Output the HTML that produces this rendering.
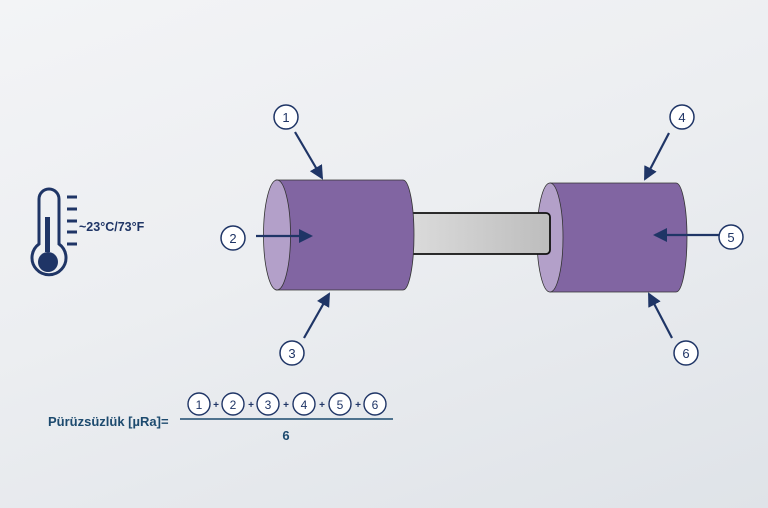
<!DOCTYPE html>
<html><head><meta charset="utf-8"><style>
html,body{margin:0;padding:0}
body{width:768px;height:508px;overflow:hidden;background:linear-gradient(160deg,#f3f4f6 0%,#eceef1 45%,#dfe3e8 100%);font-family:"Liberation Sans",sans-serif}
</style></head><body>
<svg width="768" height="508" viewBox="0 0 768 508" xmlns="http://www.w3.org/2000/svg" style="display:block">
<defs>
<linearGradient id="rod" x1="0" y1="0" x2="1" y2="0">
<stop offset="0" stop-color="#dcdcdc"/><stop offset="1" stop-color="#bdbdbd"/></linearGradient>
<marker id="ah2" markerWidth="14" markerHeight="14" refX="12" refY="7" orient="auto" markerUnits="userSpaceOnUse" viewBox="0 0 14 14">
<path d="M0,0 L14,7 L0,14 z" fill="#1f3566"/></marker>
</defs>
<!-- thermometer -->
<g fill="none" stroke="#1f3566" stroke-width="3">
<path d="M39,244 V199 a10,10 0 0 1 20,0 V244 a17,17 0 1 1 -20,0 z"/>
</g>
<rect x="45" y="217" width="5" height="35" fill="#1f3566"/>
<circle cx="48" cy="262" r="10" fill="#1f3566"/>
<g stroke="#1f3566" stroke-width="3">
<line x1="67" y1="197" x2="77" y2="197"/><line x1="67" y1="209" x2="77" y2="209"/>
<line x1="67" y1="221" x2="77" y2="221"/><line x1="67" y1="232" x2="77" y2="232"/>
<line x1="67" y1="244" x2="77" y2="244"/>
</g>
<text x="79" y="231" font-size="12.5" font-weight="bold" fill="#1f3566">~23°C/73°F</text>
<!-- right cylinder -->
<path d="M550,183 H676 A11,54.5 0 0 1 676,292 H550 z" fill="#8165a2" stroke="#333" stroke-width="0.8"/>
<ellipse cx="550" cy="237.5" rx="13" ry="54.5" fill="#b3a0c9" stroke="#333" stroke-width="0.8"/>
<!-- rod -->
<rect x="405" y="213" width="145" height="41" rx="4" fill="url(#rod)" stroke="#111" stroke-width="1.8"/>
<!-- left cylinder -->
<path d="M276,180 H403 A11,55 0 0 1 403,290 H276 z" fill="#8165a2" stroke="#333" stroke-width="0.8"/>
<ellipse cx="277" cy="235" rx="13.5" ry="55" fill="#b3a0c9" stroke="#333" stroke-width="0.8"/>
<!-- arrows -->
<g stroke="#1f3566" stroke-width="2.2" marker-end="url(#ah2)">
<line x1="295" y1="132" x2="322" y2="178"/>
<line x1="256" y1="236" x2="311" y2="236"/>
<line x1="304" y1="338" x2="329" y2="294"/>
<line x1="669" y1="133" x2="645" y2="179"/>
<line x1="720" y1="235" x2="655" y2="235"/>
<line x1="672" y1="338" x2="649" y2="294"/>
</g>
<!-- circles -->
<g fill="#fff" stroke="#1f3566" stroke-width="1.5">
<circle cx="286" cy="117" r="12"/><circle cx="233" cy="238" r="12"/><circle cx="292" cy="353" r="12"/>
<circle cx="682" cy="117" r="12"/><circle cx="731" cy="237" r="12"/><circle cx="686" cy="353" r="12"/>
</g>
<g font-size="13" fill="#1f3566" text-anchor="middle">
<text x="286" y="122">1</text><text x="233" y="243">2</text><text x="292" y="358">3</text>
<text x="682" y="122">4</text><text x="731" y="242">5</text><text x="686" y="358">6</text>
</g>
<!-- formula -->
<text x="48" y="426" font-size="13" font-weight="bold" fill="#1c4a6e">Pürüzsüzlük [µRa]=</text>
<line x1="180" y1="419" x2="393" y2="419" stroke="#1c4a6e" stroke-width="1.5"/>
<g fill="#fff" stroke="#1f3566" stroke-width="1.4">
<circle cx="199" cy="404" r="11"/><circle cx="233" cy="404" r="11"/><circle cx="268" cy="404" r="11"/>
<circle cx="304" cy="404" r="11"/><circle cx="340" cy="404" r="11"/><circle cx="375" cy="404" r="11"/>
</g>
<g font-size="12" fill="#1f3566" text-anchor="middle">
<text x="199" y="409">1</text><text x="233" y="409">2</text><text x="268" y="409">3</text>
<text x="304" y="409">4</text><text x="340" y="409">5</text><text x="375" y="409">6</text>
<text x="216" y="408" font-size="10" font-weight="bold">+</text><text x="251" y="408" font-size="10" font-weight="bold">+</text>
<text x="286" y="408" font-size="10" font-weight="bold">+</text><text x="322" y="408" font-size="10" font-weight="bold">+</text>
<text x="358" y="408" font-size="10" font-weight="bold">+</text>
</g>
<text x="286" y="440" font-size="13" font-weight="bold" fill="#1c4a6e" text-anchor="middle">6</text>
</svg>
</body></html>
